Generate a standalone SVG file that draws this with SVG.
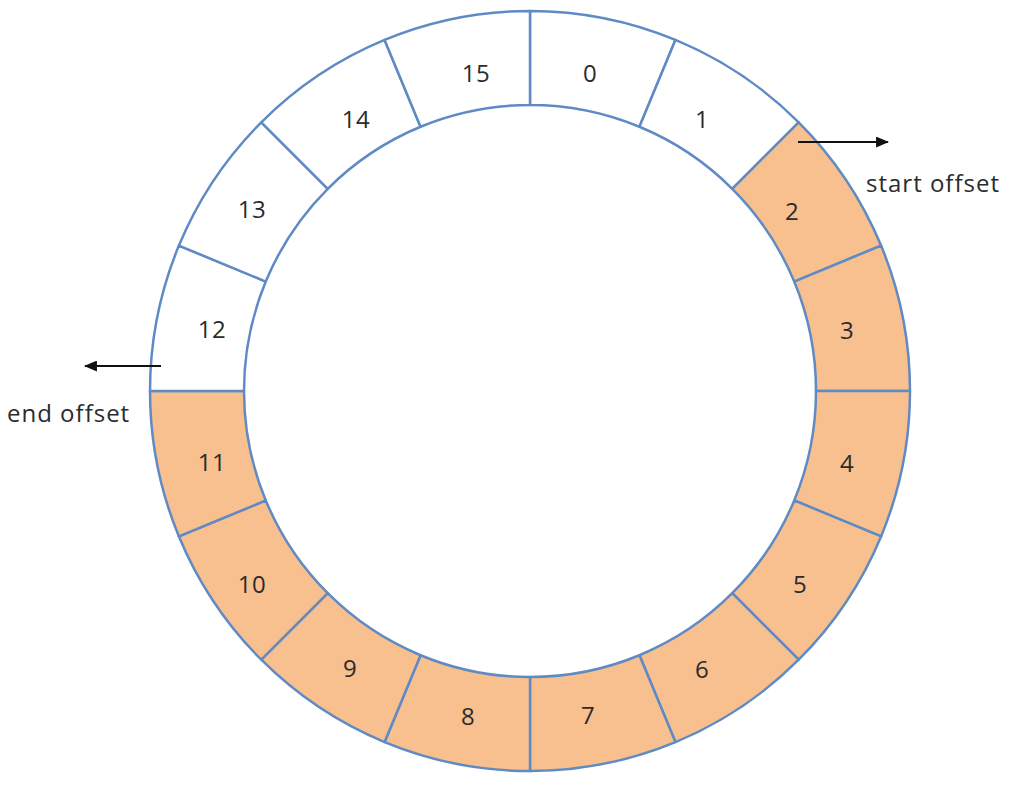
<svg xmlns="http://www.w3.org/2000/svg" width="1017" height="786" viewBox="0 0 1017 786">
<style>
.seg{stroke:#5F8AC4;stroke-width:2.5;stroke-linejoin:round}
.w{fill:#FFFFFF}
.o{fill:#F8C08F}
.lbl{font-family:"Open Sans","Noto Sans",sans-serif;font-size:24px;letter-spacing:0.5px;fill:#2b2b2b;text-anchor:middle;dominant-baseline:central}
.cap{font-family:"Open Sans","Noto Sans",sans-serif;font-size:24px;letter-spacing:1px;fill:#2b2b2b}
.arr{stroke:#111;stroke-width:1.8;fill:none}
</style>
<defs>
<marker id="ah2" viewBox="0 0 12 10" refX="11" refY="5" markerWidth="13" markerHeight="11" markerUnits="userSpaceOnUse" orient="auto"><path d="M0,0 L12,5 L0,10 z" fill="#111"/></marker>
</defs>
<rect width="1017" height="786" fill="#FFFFFF"/>
<g id="seg0"><path class="seg w" d="M530.00,11.00 A380,380 0 0 1 675.42,39.93 L639.45,126.76 A286,286 0 0 0 530.00,105.00 Z"/><text class="lbl" x="590" y="72">0</text></g>
<g id="seg1"><path class="seg w" d="M675.42,39.93 A380,380 0 0 1 798.70,122.30 L732.23,188.77 A286,286 0 0 0 639.45,126.76 Z"/><text class="lbl" x="702" y="118">1</text></g>
<g id="seg2"><path class="seg o" d="M798.70,122.30 A380,380 0 0 1 881.07,245.58 L794.24,281.55 A286,286 0 0 0 732.23,188.77 Z"/><text class="lbl" x="792" y="210">2</text></g>
<g id="seg3"><path class="seg o" d="M881.07,245.58 A380,380 0 0 1 910.00,391.00 L816.00,391.00 A286,286 0 0 0 794.24,281.55 Z"/><text class="lbl" x="847" y="329">3</text></g>
<g id="seg4"><path class="seg o" d="M910.00,391.00 A380,380 0 0 1 881.07,536.42 L794.24,500.45 A286,286 0 0 0 816.00,391.00 Z"/><text class="lbl" x="847" y="462">4</text></g>
<g id="seg5"><path class="seg o" d="M881.07,536.42 A380,380 0 0 1 798.70,659.70 L732.23,593.23 A286,286 0 0 0 794.24,500.45 Z"/><text class="lbl" x="800" y="583">5</text></g>
<g id="seg6"><path class="seg o" d="M798.70,659.70 A380,380 0 0 1 675.42,742.07 L639.45,655.24 A286,286 0 0 0 732.23,593.23 Z"/><text class="lbl" x="702" y="668">6</text></g>
<g id="seg7"><path class="seg o" d="M675.42,742.07 A380,380 0 0 1 530.00,771.00 L530.00,677.00 A286,286 0 0 0 639.45,655.24 Z"/><text class="lbl" x="588" y="714">7</text></g>
<g id="seg8"><path class="seg o" d="M530.00,771.00 A380,380 0 0 1 384.58,742.07 L420.55,655.24 A286,286 0 0 0 530.00,677.00 Z"/><text class="lbl" x="468" y="715">8</text></g>
<g id="seg9"><path class="seg o" d="M384.58,742.07 A380,380 0 0 1 261.30,659.70 L327.77,593.23 A286,286 0 0 0 420.55,655.24 Z"/><text class="lbl" x="350" y="667">9</text></g>
<g id="seg10"><path class="seg o" d="M261.30,659.70 A380,380 0 0 1 178.93,536.42 L265.76,500.45 A286,286 0 0 0 327.77,593.23 Z"/><text class="lbl" x="252" y="583">10</text></g>
<g id="seg11"><path class="seg o" d="M178.93,536.42 A380,380 0 0 1 150.00,391.00 L244.00,391.00 A286,286 0 0 0 265.76,500.45 Z"/><text class="lbl" x="212" y="461">11</text></g>
<g id="seg12"><path class="seg w" d="M150.00,391.00 A380,380 0 0 1 178.93,245.58 L265.76,281.55 A286,286 0 0 0 244.00,391.00 Z"/><text class="lbl" x="212" y="328">12</text></g>
<g id="seg13"><path class="seg w" d="M178.93,245.58 A380,380 0 0 1 261.30,122.30 L327.77,188.77 A286,286 0 0 0 265.76,281.55 Z"/><text class="lbl" x="252" y="208">13</text></g>
<g id="seg14"><path class="seg w" d="M261.30,122.30 A380,380 0 0 1 384.58,39.93 L420.55,126.76 A286,286 0 0 0 327.77,188.77 Z"/><text class="lbl" x="356" y="118">14</text></g>
<g id="seg15"><path class="seg w" d="M384.58,39.93 A380,380 0 0 1 530.00,11.00 L530.00,105.00 A286,286 0 0 0 420.55,126.76 Z"/><text class="lbl" x="476" y="72">15</text></g>
<g id="connectors">
<line class="arr" x1="798" y1="142" x2="888" y2="142" marker-end="url(#ah2)"/>
<line class="arr" x1="161" y1="366" x2="85" y2="366" marker-end="url(#ah2)"/>
</g>
<g id="start-offset"><text class="cap" x="866" y="192">start offset</text></g>
<g id="end-offset"><text class="cap" x="7" y="422">end offset</text></g>
</svg>
